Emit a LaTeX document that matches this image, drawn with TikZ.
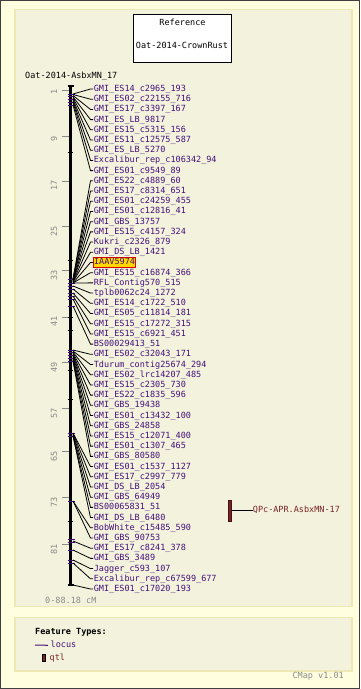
\documentclass[tikz,border=0pt]{standalone}
\usepackage{fontspec}
\setmonofont{DejaVu Sans Mono}
\usetikzlibrary{positioning}
\definecolor{cpage}{HTML}{FFFFE0}
\definecolor{cpanel}{HTML}{F3F2DD}
\definecolor{cedge}{HTML}{EDE8B4}
\definecolor{clocus}{HTML}{42107A}
\definecolor{cqtl}{HTML}{7A2424}
\definecolor{cscale}{HTML}{8A8A8A}
\definecolor{chigh}{HTML}{FFD800}
\tikzset{
	panel/.style = {fill=cpanel, draw=cedge, line width=1.5},
	mapfont/.style = {font=\ttfamily\fontsize{8.5}{9}\selectfont, text height=6.5, text depth=1.5},
	lbl/.style = {mapfont, anchor=west, inner sep=0.6, text=clocus},
	hlbl/.style = {lbl, fill=chigh, draw=red!85!black, line width=1},
	plain/.style = {mapfont, anchor=west, inner sep=0},
	scalelbl/.style = {mapfont, rotate=90, anchor=east, inner sep=0, text=cscale},
	leader/.style = {black, line width=0.8},
	ltick/.style = {clocus, line width=0.9},
	btick/.style = {black, line width=1},
}

\begin{document}
\begin{tikzpicture}[x=1pt, y=-1pt]
	\useasboundingbox (0,0) rectangle (360,689);
	\draw[fill=cpage, draw=black!75, line width=1] (0.5,0.5) rectangle (359.5,688.5);
	\draw[panel] (15,9.5) rectangle (352,606.5);
	\draw[panel] (15,617.5) rectangle (352,671);

	% reference box
	\node[draw=black, fill=white, line width=0.8, minimum width=98, minimum height=48] (refbox) at (182.5,38.3) {};
	\node[mapfont, inner sep=0] (reftitle) at (182.5,22.7) {Reference};
	\node[mapfont, inner sep=0] (refmap) at (182,45.7) {Oat-2014-CrownRust};
	\node[plain] (maptitle) at (25,76.3) {Oat-2014-AsbxMN\_17};

	% scale
	\foreach \c/\y in {1/90, 9/136.7, 17/181, 25/226.2, 33/270.7, 41/317, 49/362.7, 57/408.3, 65/451.7, 73/497.7, 81/544.3} {
		\draw[cscale, line width=1] (61.5,\y) -- (69.5,\y);
		\node[scalelbl] (s\c) at (54.5,\y-0.5) {\c};
	}
	\node[plain, text=cscale] (range) at (45,600.7) {0-88.18 cM};

	% chromosome
	\draw[black, line width=2.2] (70.5,86) -- (70.5,585);
	\draw[black, line width=1.2] (67.5,86) -- (73.5,86);
	\draw[black, line width=1.2] (67.5,585) -- (73.5,585);
	\foreach \y in {94,96.8,99.6,102.4,105.2, 279,283,286,289,293,296,299,306, 350,352.8,355.6,358.4,361.2, 433,436, 501, 539.5,542.5, 550, 560,563}
		\draw[ltick] (67.5,\y) -- (74.5,\y);
	\foreach \y in {152.7, 260.7, 317, 330, 370, 399.3, 521.7}
		\draw[btick] (68,\y) -- (73,\y);

	% loci
	\foreach \i/\b/\s/\t in {
		1/94/lbl/GMI\_ES14\_c2965\_193,
		2/94.5/lbl/GMI\_ES02\_c22155\_716,
		3/95.5/lbl/GMI\_ES17\_c3397\_167,
		4/96.8/lbl/GMI\_ES\_LB\_9817,
		5/98/lbl/GMI\_ES15\_c5315\_156,
		6/99.6/lbl/GMI\_ES11\_c12575\_587,
		7/101/lbl/GMI\_ES\_LB\_5270,
		8/102.4/lbl/Excalibur\_rep\_c106342\_94,
		9/105/lbl/GMI\_ES01\_c9549\_89,
		10/279/lbl/GMI\_ES22\_c4889\_60,
		11/279/lbl/GMI\_ES17\_c8314\_651,
		12/280/lbl/GMI\_ES01\_c24259\_455,
		13/280/lbl/GMI\_ES01\_c12816\_41,
		14/281/lbl/GMI\_GBS\_13757,
		15/281/lbl/GMI\_ES15\_c4157\_324,
		16/282/lbl/Kukri\_c2326\_879,
		17/282/lbl/GMI\_DS\_LB\_1421,
		18/283/hlbl/IAAV5974,
		19/283/lbl/GMI\_ES15\_c16874\_366,
		20/283/lbl/RFL\_Contig570\_515,
		21/286/lbl/tplb0062c24\_1272,
		22/289/lbl/GMI\_ES14\_c1722\_510,
		23/293/lbl/GMI\_ES05\_c11814\_181,
		24/296/lbl/GMI\_ES15\_c17272\_315,
		25/299/lbl/GMI\_ES15\_c6921\_451,
		26/306/lbl/BS00029413\_51,
		27/350/lbl/GMI\_ES02\_c32043\_171,
		28/351/lbl/Tdurum\_contig25674\_294,
		29/352/lbl/GMI\_ES02\_lrc14207\_485,
		30/353/lbl/GMI\_ES15\_c2305\_730,
		31/354/lbl/GMI\_ES22\_c1835\_596,
		32/355/lbl/GMI\_GBS\_19438,
		33/356/lbl/GMI\_ES01\_c13432\_100,
		34/357.5/lbl/GMI\_GBS\_24858,
		35/359/lbl/GMI\_ES15\_c12071\_400,
		36/360/lbl/GMI\_ES01\_c1307\_465,
		37/361.2/lbl/GMI\_GBS\_80580,
		38/433/lbl/GMI\_ES01\_c1537\_1127,
		39/433/lbl/GMI\_ES17\_c2997\_779,
		40/434/lbl/GMI\_DS\_LB\_2054,
		41/435/lbl/GMI\_GBS\_64949,
		42/436/lbl/BS00065831\_51,
		43/436/lbl/GMI\_DS\_LB\_6480,
		44/501/lbl/BobWhite\_c15485\_590,
		45/501/lbl/GMI\_GBS\_90753,
		46/541/lbl/GMI\_ES17\_c8241\_378,
		47/550/lbl/GMI\_GBS\_3489,
		48/560/lbl/Jagger\_c593\_107,
		49/563/lbl/Excalibur\_rep\_c67599\_677,
		50/585/lbl/GMI\_ES01\_c17020\_193} {
		\pgfmathsetmacro\ly{89+(\i-1)*10.204}
		\coordinate (loc\i) at (73,\b);
		\node[\s] (lab\i) at (93,\ly) {\t};
		\draw[leader] (loc\i) -- ([xshift=-2.5]lab\i.west) -- (lab\i.west);
	}

	% qtl
	\node[fill=cqtl, draw=cqtl!55!black, line width=0.8, minimum width=3.4, minimum height=21.7, inner sep=0] (qtl) at (230,510.8) {};
	\node[plain, text=cqtl] (qtllab) at (252.7,510.3) {QPc-APR.AsbxMN-17};
	\draw[leader] (qtl.east |- qtllab.west) -- (qtllab.west);

	% legend
	\node[plain, font=\ttfamily\bfseries\fontsize{8.5}{9}\selectfont] (legtitle) at (35,631.7) {Feature Types:};
	\coordinate (legline) at (35,645);
	\node[plain, text=clocus] (leglocus) at (50.5,645.3) {locus};
	\draw[clocus, line width=1] (legline) -- ([xshift=-2.5]leglocus.west);
	\node[fill=cqtl, draw=black, line width=0.6, minimum width=3.3, minimum height=7.7, inner sep=0] (legqtl) at (43.6,657.8) {};
	\node[plain, text=cqtl] (legqtllab) at (49.5,658) {qtl};
	\node[mapfont, anchor=east, inner sep=0, text=cscale] (version) at (344,675.5) {CMap v1.01};
\end{tikzpicture}
\end{document}
